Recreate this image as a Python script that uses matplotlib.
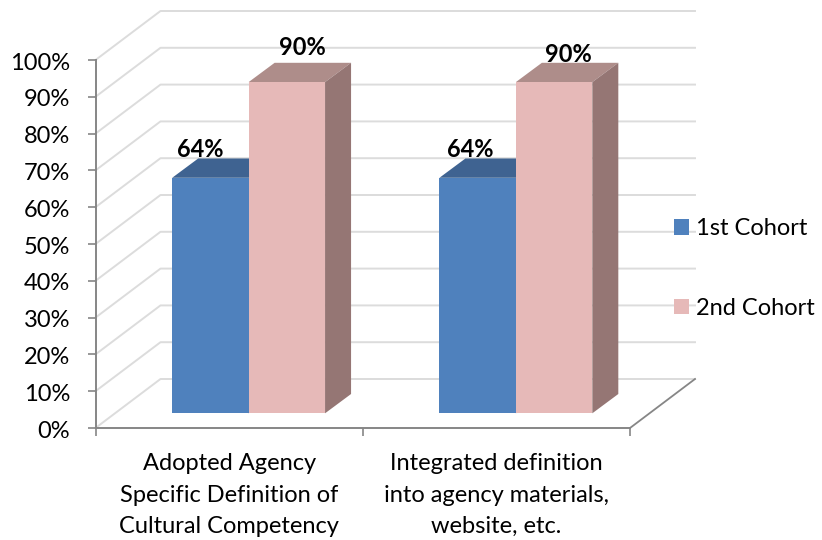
# plot.py - clustered "3D" column chart, cohort comparison

import matplotlib
matplotlib.use("Agg")
import matplotlib.pyplot as plt
from matplotlib.patches import Patch
from matplotlib.transforms import Affine2D, IdentityTransform

categories = ["Adopted Agency\nSpecific Definition of\nCultural Competency",
              "Integrated definition\ninto agency materials,\nwebsite, etc."]
cohort_names = ["1st Cohort", "2nd Cohort"]
cohort_1 = [64, 64]
cohort_2 = [90, 90]
y_ticks = list(range(0, 101, 10))

FRONT = ["#4F81BD", "#E6B9B8"]
TOP = ["#3F6391", "#AE8D8A"]
SIDE = ["#35547B", "#957674"]
GRID = "#DCDCDC"
AXIS = "#868686"
FS = 17

W, H = 822, 540
# pixel offsets for the fake depth
WALL = (65, 49)
BAR_IN = (19.5, 14.7)
BAR_DEPTH = (26, 19.3)
BAR_W = 0.286
# hand nudges of the value labels, px from category centre / bar top, [cat][cohort]
NUDGE = [[(-29, 42.5), (73, 49)], [(-26.4, 42.5), (71.6, 41.8)]]

plt.rcParams["font.family"] = ["Lato", "DejaVu Sans"]

fig = plt.figure(figsize=(W / 100, H / 100), dpi=100)
ax = fig.add_axes([95.5 / W, (H - 428) / H, 534.5 / W, 368 / H])
ax.set_xlim(0, 2)
ax.set_ylim(0, 100)
ax.patch.set_visible(False)
for name in ["top", "right"]:
    ax.spines[name].set_visible(False)
for name in ["left", "bottom"]:
    ax.spines[name].set_color(AXIS)
    ax.spines[name].set_linewidth(1.4)


def px(x, y, off=(0, 0)):
    p = ax.transData.transform((x, y))
    return p[0] + off[0], p[1] + off[1]


def poly(points, color, z):
    xs, ys = zip(*points)
    ax.fill(xs, ys, color=color, lw=0, transform=IdentityTransform(),
            clip_on=False, zorder=z)


def deepen(p):
    return p[0] + BAR_DEPTH[0], p[1] + BAR_DEPTH[1]


# back wall lines
for v in y_ticks:
    x0, y0 = px(0, v)
    x1, y1 = px(0, v, WALL)
    x2, y2 = px(2, v, WALL)
    ax.plot([x0, x1, x2], [y0, y1, y2], color=GRID, lw=1.4,
            transform=IdentityTransform(), clip_on=False, zorder=1)

# floor edge on the right
x0, y0 = px(2, 0)
x1, y1 = px(2, 0, WALL)
ax.plot([x0, x1], [y0, y1], color=AXIS, lw=1.3,
        transform=IdentityTransform(), clip_on=False, zorder=1.5)

bar_tf = Affine2D().translate(*BAR_IN)
for s, values in enumerate([cohort_1, cohort_2]):
    for c, v in enumerate(values):
        left = c + 0.5 + (s - 1) * BAR_W
        right = left + BAR_W
        z = 2 + s
        a = px(left, v, BAR_IN)
        b = px(right, v, BAR_IN)
        d = px(right, 0, BAR_IN)
        poly([a, b, deepen(b), deepen(a)], TOP[s], z)
        poly([b, d, deepen(d), deepen(b)], SIDE[s], z)
        ax.bar(left, v, BAR_W, align="edge", color=FRONT[s], lw=0, zorder=z + 0.1,
               transform=ax.transData + bar_tf, clip_on=False)
        nx, ny = NUDGE[c][s]
        ax.annotate(f"{v}%", xy=(c + 0.5, v), xytext=(nx * 0.72, ny * 0.72),
                    textcoords="offset points", ha="center", va="center",
                    fontsize=FS, fontweight="bold", color="black", zorder=6)

ax.set_xlim(0, 2)
ax.set_ylim(0, 100)
ax.set_yticks(y_ticks)
ax.set_yticklabels([f"{v}%" for v in y_ticks], fontsize=FS, color="black")
ax.set_xticks([0, 1, 2])
ax.set_xticklabels([])
ax.set_xticks([0.5, 1.5], minor=True)
ax.set_xticklabels(categories, minor=True, fontsize=FS, color="black", linespacing=1.6)
ax.tick_params(axis="x", which="minor", length=0, pad=18.3)
ax.tick_params(axis="x", which="major", length=6, width=1.2, color=AXIS)
ax.tick_params(axis="y", length=6, width=1.2, color=AXIS, pad=12.4)
for lab in ax.get_yticklabels():
    lab.set_transform(lab.get_transform() + Affine2D().translate(0, -1))

handles = [Patch(color=FRONT[i], lw=0, label=cohort_names[i]) for i in range(2)]
fig.legend(handles=handles, loc="center left", bbox_to_anchor=(674 / W, (H - 268.5) / H),
           frameon=False, fontsize=FS, handlelength=0.62, handleheight=0.62,
           handletextpad=0.3, labelspacing=2.47, borderpad=0, borderaxespad=0)

fig.savefig("out.png", dpi=100)
